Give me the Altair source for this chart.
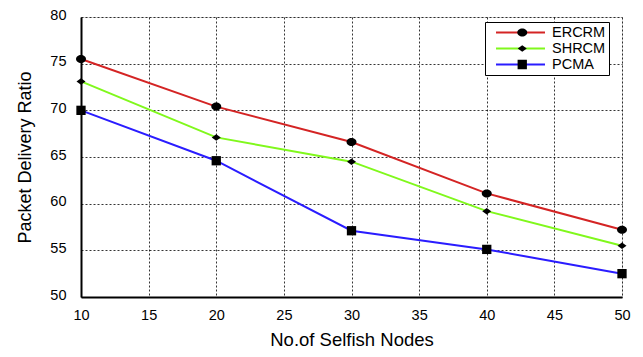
import altair as alt
import pandas as pd

nodes = [10, 20, 30, 40, 50]
series_names = ["ERCRM", "SHRCM", "PCMA"]
ercrm = [75.5, 70.4, 66.6, 61.1, 57.2]
shrcm = [73.1, 67.1, 64.5, 59.2, 55.5]
pcma = [70.0, 64.6, 57.1, 55.1, 52.5]

x_ticks = [10, 15, 20, 25, 30, 35, 40, 45, 50]
y_ticks = [50, 55, 60, 65, 70, 75, 80]

line_colors = ["#d42424", "#80f81c", "#2a1cff"]
marker_shapes = [
    "M-1,0A1,0.8,0,1,1,1,0A1,0.8,0,1,1,-1,0Z",
    "M-0.9,0L0,-0.65L0.9,0L0,0.65Z",
    "M-0.93,-0.93L0.93,-0.93L0.93,0.93L-0.93,0.93Z",
]
marker_keys = ["m_" + s for s in series_names]

rows = []
for name, key, vals in zip(series_names, marker_keys, [ercrm, shrcm, pcma]):
    for n, v in zip(nodes, vals):
        rows.append({"nodes": n, "pdr": v, "series": name, "marker": key})
df = pd.DataFrame(rows)

FONT = "Liberation Sans"
NBSP = "\u00a0"

x_enc = alt.X(
    "nodes:Q",
    scale=alt.Scale(domain=[10, 50], nice=False, zero=False),
    axis=alt.Axis(
        values=x_ticks, title="No.of Selfish Nodes", grid=True,
        gridDash=[2, 2], gridColor="black", gridOpacity=1, gridWidth=0.8,
        ticks=False, tickSize=0, labelPadding=11, titlePadding=9,
        labelFlush=False,
        domainColor="black", domainWidth=2,
        labelFontSize=14.5, titleFontSize=18.5, titleFontWeight="normal",
        labelFont=FONT, titleFont=FONT, labelColor="black", titleColor="black",
    ),
)
y_enc = alt.Y(
    "pdr:Q",
    scale=alt.Scale(domain=[50, 80], nice=False, zero=False),
    axis=alt.Axis(
        values=y_ticks, title="Packet Delivery Ratio", grid=True,
        gridDash=[2, 2], gridColor="black", gridOpacity=1, gridWidth=0.8,
        ticks=False, tickSize=0, labelPadding=15, titlePadding=15,
        labelFlush=False,
        domainColor="black", domainWidth=2, labelOffset=-2,
        labelFontSize=14.5, titleFontSize=18, titleFontWeight="normal",
        labelFont=FONT, titleFont=FONT, labelColor="black", titleColor="black",
    ),
)

lines = alt.Chart(df).mark_line(strokeWidth=2).encode(
    x=x_enc,
    y=y_enc,
    color=alt.Color(
        "series:N",
        scale=alt.Scale(domain=series_names, range=line_colors),
        sort=series_names,
        legend=alt.Legend(
            title=None, orient="none", legendX=404, legendY=5,
            symbolType="stroke", symbolSize=2400, symbolStrokeWidth=2,
            symbolOffset=7, clipHeight=15, rowPadding=0,
            labelFontSize=14.5, labelFont=FONT, labelColor="black",
            labelOffset=6, labelExpr="datum.label + '" + NBSP * 2 + "'",
            padding=3, fillColor="white", strokeColor="black",
        ),
    ),
)

points = alt.Chart(df).mark_point(filled=True, color="black", opacity=1, size=100).encode(
    x="nodes:Q",
    y="pdr:Q",
    shape=alt.Shape(
        "marker:N",
        scale=alt.Scale(domain=marker_keys, range=marker_shapes),
        sort=marker_keys,
        legend=alt.Legend(
            title=None, orient="none", legendX=431, legendY=5,
            symbolSize=100, symbolFillColor="black", symbolStrokeColor="black",
            clipHeight=15, rowPadding=0,
            labelFontSize=14.5, labelFont=FONT, labelExpr="''",
            labelOffset=6, padding=3,
        ),
    ),
)

chart = alt.layer(lines, points).properties(
    width=541, height=280,
    autosize=alt.AutoSizeParams(type="none"),
    padding={"left": 81, "top": 17, "right": 21, "bottom": 60},
).configure_view(stroke="black", strokeWidth=1).configure(background="white")

chart.save("out.html", embed_options={"renderer": "svg", "actions": False})
